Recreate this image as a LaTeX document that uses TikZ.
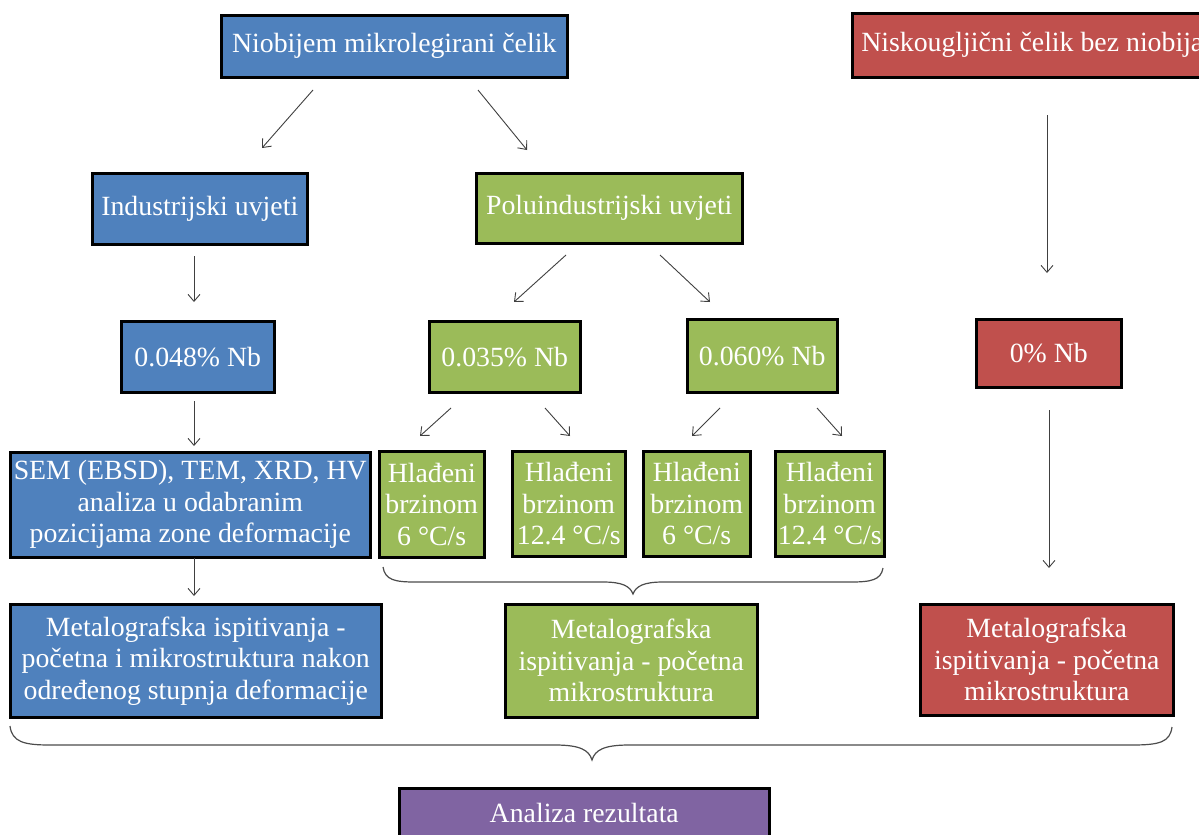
\documentclass[tikz,border=0pt]{standalone}
\usepackage{fontspec}
\setmainfont{Liberation Serif}
\usetikzlibrary{arrows.meta}
\definecolor{cblue}{HTML}{4F81BD}
\definecolor{cgreen}{HTML}{9BBB59}
\definecolor{cred}{HTML}{C0504D}
\definecolor{cpurple}{HTML}{8064A2}
\tikzset{
  box/.style={draw=black, line width=2.5pt, text=white, align=center, inner sep=0pt,
    anchor=north west, font=\fontsize{27.8}{31.5}\selectfont},
  arr/.style={draw=black!75, line width=0.9pt, -{Straight Barb[length=7pt,width=12pt]}},
  brace/.style={draw=black!70, line width=1.2pt},
}
\begin{document}
\begin{tikzpicture}[x=1pt,y=-1pt]
\useasboundingbox (0,0) rectangle (1199,835);
\clip (0,0) rectangle (1199,835);
\fill[white] (0,0) rectangle (1199,835);
% boxes
\node[box, fill=cblue, minimum width=346pt, minimum height=62pt] (niob) at (220,14) {Niobijem mikrolegirani čelik};
\node[box, fill=cred, minimum width=360pt, minimum height=64pt] (nisk) at (851,12) {Niskougljični čelik bez niobija};
\node[box, fill=cblue, minimum width=215pt, minimum height=71pt] (ind) at (91,172) {Industrijski uvjeti};
\node[box, fill=cgreen, minimum width=266pt, minimum height=70pt] (pol) at (475,172) {Poluindustrijski uvjeti};
\node[box, fill=cblue, minimum width=153pt, minimum height=71pt] (n048) at (120,320) {0.048\% Nb};
\node[box, fill=cgreen, minimum width=151pt, minimum height=71pt] (n035) at (428,320) {0.035\% Nb};
\node[box, fill=cgreen, minimum width=150pt, minimum height=73pt] (n060) at (686,318) {0.060\% Nb};
\node[box, fill=cred, minimum width=145pt, minimum height=68pt] (n0) at (975,318) {0\% Nb};
\node[box, fill=cblue, minimum width=360pt, minimum height=105pt] (sem) at (9,451) {SEM (EBSD), TEM, XRD, HV\\analiza u odabranim\\pozicijama zone deformacije};
\node[box, fill=cgreen, minimum width=105pt, minimum height=106pt] (h1) at (378,450) {Hlađeni\\brzinom\\6 °C/s};
\node[box, fill=cgreen, minimum width=113pt, minimum height=105pt] (h2) at (511,450) {Hlađeni\\brzinom\\12.4 °C/s};
\node[box, fill=cgreen, minimum width=107pt, minimum height=105pt] (h3) at (642,450) {Hlađeni\\brzinom\\6 °C/s};
\node[box, fill=cgreen, minimum width=109pt, minimum height=105pt] (h4) at (774,450) {Hlađeni\\brzinom\\12.4 °C/s};
\node[box, fill=cblue, minimum width=371pt, minimum height=113pt] (mb) at (9,603) {Metalografska ispitivanja -\\početna i mikrostruktura nakon\\određenog stupnja deformacije};
\node[box, fill=cgreen, minimum width=252pt, minimum height=113pt] (mg) at (504,603) {Metalografska\\ispitivanja - početna\\mikrostruktura};
\node[box, fill=cred, minimum width=253pt, minimum height=111pt] (mr) at (919,603) {Metalografska\\ispitivanja - početna\\mikrostruktura};
\node[box, fill=cpurple, minimum width=370pt, minimum height=50pt] (an) at (398,787) {Analiza rezultata};
% arrow end points
\coordinate (a1s) at (313,90);  \coordinate (a1e) at (262,148);
\coordinate (a2s) at (478,90);  \coordinate (a2e) at (527,150);
\coordinate (a3s) at (194,256); \coordinate (a3e) at (194,302);
\coordinate (a4s) at (566,255); \coordinate (a4e) at (514,302);
\coordinate (a5s) at (660,255); \coordinate (a5e) at (710,302);
\coordinate (a6s) at (194,401); \coordinate (a6e) at (194,446);
\coordinate (a7s) at (451,408); \coordinate (a7e) at (420,436);
\coordinate (a8s) at (545,408); \coordinate (a8e) at (570,436);
\coordinate (a9s) at (720,408); \coordinate (a9e) at (692,436);
\coordinate (a10s) at (817,408); \coordinate (a10e) at (842,436);
\coordinate (a11s) at (194,558); \coordinate (a11e) at (194,596);
\coordinate (a12s) at (1047,115); \coordinate (a12e) at (1047,273);
\coordinate (a13s) at (1049,410); \coordinate (a13e) at (1049,568);
\foreach \i in {1,...,13} {\draw[arr] (a\i s) -- (a\i e);}
% braces
\draw[brace] (383,567) .. controls (385,580) and (395,582) .. (415,582) -- (603,582)
  .. controls (622,582) and (630,586) .. (633,594)
  .. controls (636,586) and (644,582) .. (663,582) -- (851,582)
  .. controls (871,582) and (881,580) .. (883,568);
\draw[brace] (10,726) .. controls (12,742) and (24,745) .. (50,745) -- (555,745)
  .. controls (580,745) and (589,750) .. (592,760)
  .. controls (595,750) and (604,745) .. (629,745) -- (1132,745)
  .. controls (1160,745) and (1170,742) .. (1172,727);
\end{tikzpicture}
\end{document}
